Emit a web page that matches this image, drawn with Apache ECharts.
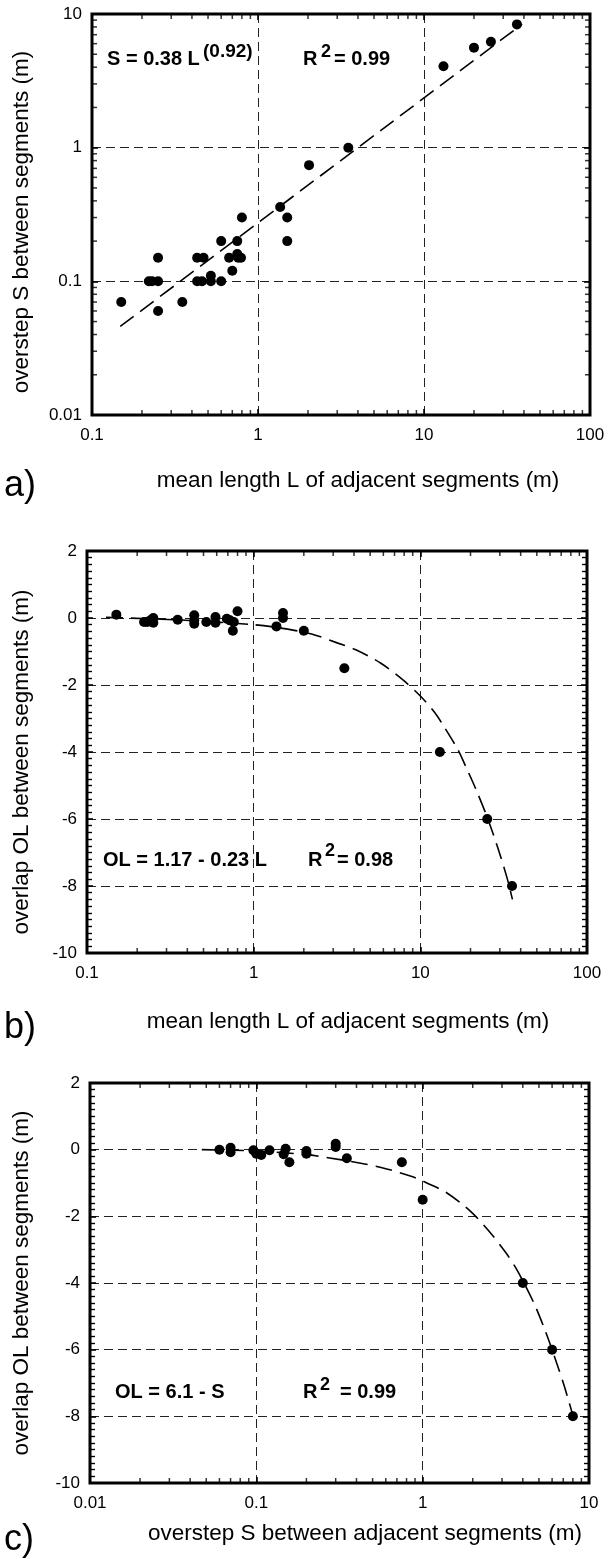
<!DOCTYPE html>
<html>
<head>
<meta charset="utf-8">
<script src="https://cdn.jsdelivr.net/npm/echarts@6/dist/echarts.min.js"></script>
<style>
html,body{margin:0;padding:0;background:#fff;}
#chart{width:612px;height:1559px;}
</style>
</head>
<body>
<div id="chart"></div>
<script>
// ---------------- DATA ----------------
// Panel a: mean length L (m) vs overstep S (m)
const aPointsL = [0.15,0.22,0.23,0.25,0.25,0.25,0.35,0.43,0.47,0.43,0.46,0.52,0.52,0.60,0.60,0.67,0.76,0.79,0.70,0.75,0.75,0.80,1.36,1.50,1.50,2.03,3.5,13.1,20.0,25.3,36.3];
const aPointsS = [0.07,0.10,0.10,0.10,0.15,0.06,0.07,0.15,0.15,0.10,0.10,0.11,0.10,0.20,0.10,0.15,0.15,0.15,0.12,0.20,0.16,0.30,0.36,0.30,0.20,0.74,1.0,4.07,5.6,6.2,8.36];
const aFitL = [0.148, 39];
const aFitS = [0.046, 8.4];

// Panel b: mean length L (m) vs overlap OL (m)
const bPointsL = [0.15,0.22,0.23,0.24,0.25,0.25,0.35,0.44,0.44,0.44,0.52,0.59,0.59,0.69,0.72,0.76,0.75,0.80,1.37,1.50,1.50,2.0,3.5,13.1,25.2,35.5];
const bPointsOL = [0.10,-0.12,-0.12,-0.07,0.0,-0.14,-0.05,0.08,-0.17,-0.07,-0.12,0.03,-0.14,-0.02,-0.07,-0.12,-0.38,0.20,-0.25,0.15,0.0,-0.38,-1.5,-4,-6,-8];
const bFitL = [0.13,0.36,1,1.45,2.2,3.2,4.1,5.8,8.0,10,12.1,13.9,16.8,18.6,21.5,25.2,28.9,33.1,35.7];
const bFitOL = [0.02,-0.06,-0.2,-0.3,-0.47,-0.75,-0.95,-1.35,-1.88,-2.33,-2.8,-3.25,-3.93,-4.4,-5.1,-5.95,-6.8,-7.75,-8.4];

// Panel c: overstep S (m) vs overlap OL (m)
const cPointsS = [0.06,0.07,0.07,0.096,0.10,0.107,0.12,0.15,0.146,0.158,0.20,0.20,0.30,0.30,0.35,0.75,1.0,4.0,6.0,8.0];
const cPointsOL = [0.0,0.06,-0.08,-0.02,-0.12,-0.16,-0.02,0.03,-0.14,-0.38,-0.04,-0.12,0.18,0.08,-0.26,-0.38,-1.5,-4,-6,-8];
const cFitS = [0.047,0.1,0.2,0.27,0.44,0.6,0.88,1.06,1.4,1.94,2.5,3.15,3.71,4.68,5.52,6.19,7.11,8.2];
const cFitOL = [0.0,-0.04,-0.15,-0.24,-0.42,-0.57,-0.82,-1.0,-1.3,-1.85,-2.44,-3.08,-3.63,-4.62,-5.5,-6.2,-7.1,-8.16];

// Axis tick labels
const aXTicks = ['0.1','1','10','100'];
const aYTicks = ['0.01','0.1','1','10'];
const bXTicks = ['0.1','1','10','100'];
const olTicks = ['-10','-8','-6','-4','-2','0','2'];
const cXTicks = ['0.01','0.1','1','10'];

// ---------------- HELPERS ----------------
const FONT = '"Liberation Sans", Arial, Helvetica, sans-serif';
const zip = (xs, ys) => xs.map((x, i) => [x, ys[i]]);
const minorLogValues = (labels) => {
  const out = [];
  const ds = labels.map(Number);
  for (let i = 0; i < ds.length - 1; i++) {
    for (let k = 2; k <= 9; k++) out.push(+(k * ds[i]).toPrecision(3));
  }
  return out;
};
const fmt = v => String(parseFloat(Number(v).toPrecision(3)));

const grids = [
  {left: 92, top: 14, width: 498, height: 401},
  {left: 87, top: 551, width: 500, height: 402},
  {left: 90, top: 1083, width: 499, height: 400}
];

const gridLine = {show: true, lineStyle: {color: '#222', width: 1, type: [9, 5]}};
const noLine = {show: false, onZero: false};
const tickStyle = {show: true, inside: true, length: 6, lineStyle: {color: '#000', width: 1.6}};
const labelStyle = {color: '#000', fontSize: 17, fontFamily: FONT};

function logX(gi, labels) {
  const min = Number(labels[0]), max = Number(labels[labels.length - 1]);
  return [
    {type: 'log', logBase: 10, gridIndex: gi, min, max, position: 'bottom',
     axisLine: noLine, axisTick: tickStyle, splitLine: gridLine,
     axisLabel: Object.assign({margin: 12, formatter: v => { const s = fmt(v); return labels.includes(s) ? s : ''; }}, labelStyle)},
    {type: 'log', logBase: 10, gridIndex: gi, min, max, position: 'top',
     axisLine: noLine, axisTick: tickStyle, splitLine: {show: false}, axisLabel: {show: false}}
  ];
}
function logY(gi, labels) {
  const min = Number(labels[0]), max = Number(labels[labels.length - 1]);
  return [
    {type: 'log', logBase: 10, gridIndex: gi, min, max, position: 'left',
     axisLine: noLine, axisTick: tickStyle, splitLine: gridLine,
     axisLabel: Object.assign({margin: 10, formatter: v => { const s = fmt(v); return labels.includes(s) ? s : ''; }}, labelStyle)},
    {type: 'log', logBase: 10, gridIndex: gi, min, max, position: 'right',
     axisLine: noLine, axisTick: tickStyle, splitLine: {show: false}, axisLabel: {show: false}}
  ];
}
function linY(gi, labels) {
  const min = Number(labels[0]), max = Number(labels[labels.length - 1]);
  const interval = Number(labels[1]) - Number(labels[0]);
  const minor = {show: true, splitNumber: 10, length: 5, lineStyle: {color: '#000', width: 1.4}};
  return [
    {type: 'value', gridIndex: gi, min, max, interval, position: 'left',
     axisLine: noLine, axisTick: tickStyle, minorTick: minor, splitLine: gridLine,
     axisLabel: Object.assign({margin: 10}, labelStyle)},
    {type: 'value', gridIndex: gi, min, max, interval, position: 'right',
     axisLine: noLine, axisTick: tickStyle, minorTick: minor, splitLine: {show: false}, axisLabel: {show: false}}
  ];
}

// minor log ticks: tiny bar symbols placed through the axis scale on the frame edges
const TL = 5, TW = 1.5;
function xTickMarks(gi, values, yEdge, up) {
  return {type: 'scatter', xAxisIndex: gi * 2, yAxisIndex: gi * 2, clip: false, silent: true, z: 6,
    data: values.map(v => [v, yEdge]), symbol: 'rect', symbolSize: [TW, TL],
    symbolOffset: [0, up ? -TL / 2 : TL / 2], itemStyle: {color: '#000'}};
}
function yTickMarks(gi, values, xEdge, right) {
  return {type: 'scatter', xAxisIndex: gi * 2, yAxisIndex: gi * 2, clip: false, silent: true, z: 6,
    data: values.map(v => [xEdge, v]), symbol: 'rect', symbolSize: [TL, TW],
    symbolOffset: [right ? TL / 2 : -TL / 2, 0], itemStyle: {color: '#000'}};
}
function logXTicks(gi, labels, yMin, yMax) {
  const vals = minorLogValues(labels);
  return [xTickMarks(gi, vals, yMin, true), xTickMarks(gi, vals, yMax, false)];
}
function logYTicks(gi, labels, xMin, xMax) {
  const vals = minorLogValues(labels);
  return [yTickMarks(gi, vals, xMin, true), yTickMarks(gi, vals, xMax, false)];
}

function scatter(gi, data) {
  return {type: 'scatter', xAxisIndex: gi * 2, yAxisIndex: gi * 2, data, symbol: 'circle',
    symbolSize: 10, itemStyle: {color: '#000', opacity: 1}, z: 4, silent: true};
}
function fit(gi, data) {
  return {type: 'line', xAxisIndex: gi * 2, yAxisIndex: gi * 2, data, symbol: 'none', smooth: 0.3,
    lineStyle: {color: '#000', width: 1.6, type: [17, 8]}, z: 3, silent: true};
}

// annotation texts
function txt(x, y, text, size, weight) {
  return {type: 'text', x, y, silent: true, z: 10,
    style: {text, fill: '#000', font: (weight || 'bold') + ' ' + size + 'px ' + FONT, textAlign: 'left', textVerticalAlign: 'middle'}};
}
function title(x, y, text, rot) {
  return {type: 'text', x, y, rotation: rot ? Math.PI / 2 : 0, silent: true, z: 10,
    style: {text, fill: '#000', font: '22.5px ' + FONT, textAlign: 'center', textVerticalAlign: 'middle'}};
}
function letter(x, y, text) {
  return {type: 'text', x, y, silent: true, z: 10,
    style: {text, fill: '#000', font: '36px ' + FONT, textAlign: 'left', textVerticalAlign: 'middle'}};
}
function frame(g) {
  return {type: 'rect', shape: {x: g.left, y: g.top, width: g.width, height: g.height}, silent: true, z: 20,
    style: {fill: 'transparent', stroke: '#000', lineWidth: 3}};
}

const yMinA = Number(aYTicks[0]), yMaxA = Number(aYTicks[aYTicks.length - 1]);
const olMin = Number(olTicks[0]), olMax = Number(olTicks[olTicks.length - 1]);

const option = {
  animation: false,
  backgroundColor: '#fff',
  grid: grids.map(g => Object.assign({containLabel: false, show: false}, g)),
  xAxis: [].concat(logX(0, aXTicks), logX(1, bXTicks), logX(2, cXTicks)),
  yAxis: [].concat(logY(0, aYTicks), linY(1, olTicks), linY(2, olTicks)),
  series: [].concat(
    logXTicks(0, aXTicks, yMinA, yMaxA),
    logYTicks(0, aYTicks, Number(aXTicks[0]), Number(aXTicks[aXTicks.length - 1])),
    logXTicks(1, bXTicks, olMin, olMax),
    logXTicks(2, cXTicks, olMin, olMax),
    [
      fit(0, zip(aFitL, aFitS)),
      scatter(0, zip(aPointsL, aPointsS)),
      fit(1, zip(bFitL, bFitOL)),
      scatter(1, zip(bPointsL, bPointsOL)),
      fit(2, zip(cFitS, cFitOL)),
      scatter(2, zip(cPointsS, cPointsOL))
    ]
  ),
  graphic: [
    frame(grids[0]), frame(grids[1]), frame(grids[2]),
    txt(107, 59, 'S = 0.38 L', 20), txt(203, 52, '(0.92)', 19),
    txt(303, 59, 'R', 20), txt(321, 52, '2', 18), txt(334, 59, '= 0.99', 20),
    txt(103, 860, 'OL = 1.17 - 0.23 L', 20),
    txt(308, 860, 'R', 20), txt(325, 851, '2', 18), txt(337, 860, '= 0.98', 20),
    txt(115, 1392, 'OL = 6.1 - S', 20),
    txt(303, 1392, 'R', 20), txt(320, 1385, '2', 18), txt(340, 1392, '= 0.99', 20),
    title(358, 481, 'mean length L of adjacent segments (m)'),
    title(348, 1022, 'mean length L of adjacent segments (m)'),
    title(365, 1534, 'overstep S between adjacent segments (m)'),
    title(22, 222, 'overstep S between segments (m)', true),
    title(22, 762, 'overlap OL between segments (m)', true),
    title(22, 1283, 'overlap OL between segments (m)', true),
    letter(4, 486, 'a)'),
    letter(4, 1028, 'b)'),
    letter(4, 1540, 'c)')
  ]
};

const chart = echarts.init(document.getElementById('chart'), null, {renderer: 'canvas', width: 612, height: 1559});
chart.setOption(option);
</script>
</body>
</html>
